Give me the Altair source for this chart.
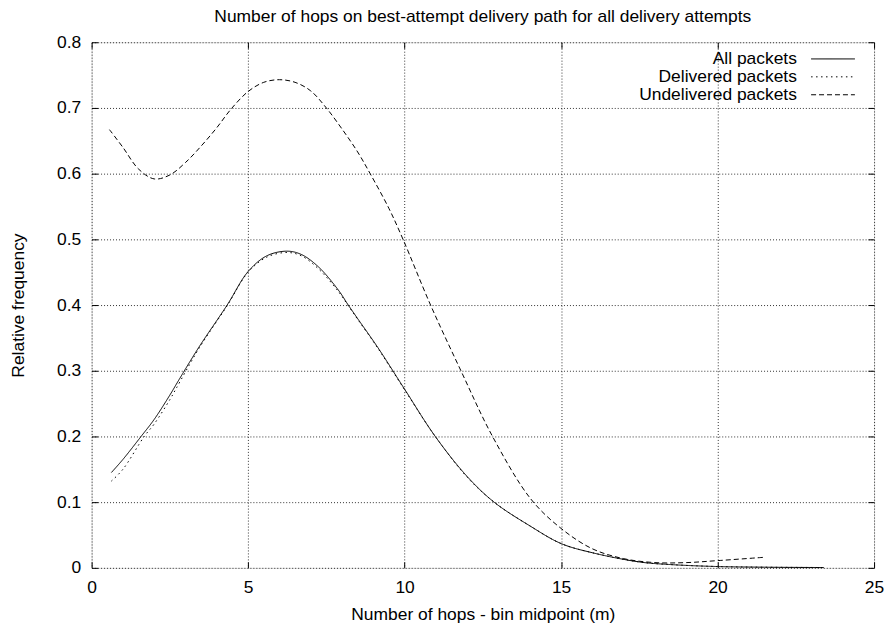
import altair as alt
import pandas as pd

# ---- data ----
all_x = [0.63, 1.0, 1.58, 2.0, 2.5, 2.8, 3.43, 4.33, 5.0, 5.6, 6.24, 6.7, 7.25, 7.88, 8.2, 8.52, 9.15, 10.0, 10.98, 12.0, 12.86, 14.0, 15.0, 16.0, 17.5, 18.5, 20.0, 21.5, 23.4]
all_y = [0.145, 0.165, 0.200, 0.226, 0.263, 0.287, 0.336, 0.400, 0.451, 0.475, 0.482, 0.477, 0.458, 0.423, 0.400, 0.378, 0.335, 0.272, 0.200, 0.139, 0.100, 0.064, 0.037, 0.023, 0.009, 0.005, 0.002, 0.001, 0.0005]

del_x = [0.63, 1.0, 1.68, 2.0, 2.5, 2.69, 3.43, 4.33, 5.0, 5.6, 6.24, 6.7, 7.25, 7.88, 8.2, 8.52, 9.15, 10.0, 10.98, 12.0, 12.86, 14.0, 15.0, 16.0, 17.5, 18.5, 20.0, 21.5, 23.4]
del_y = [0.132, 0.150, 0.200, 0.219, 0.256, 0.272, 0.334, 0.399, 0.450, 0.473, 0.480, 0.475, 0.455, 0.421, 0.399, 0.377, 0.334, 0.271, 0.200, 0.138, 0.100, 0.064, 0.037, 0.023, 0.009, 0.005, 0.002, 0.001, 0.0005]

und_x = [0.57, 1.0, 1.5, 2.0, 2.5, 3.0, 3.5, 4.0, 4.45, 5.0, 5.5, 6.0, 6.5, 7.0, 7.5, 8.0, 8.5, 8.9, 9.5, 9.95, 10.83, 11.8, 12.81, 14.03, 15.0, 16.0, 17.0, 18.0, 19.0, 20.0, 21.47]
und_y = [0.667, 0.640, 0.607, 0.592, 0.598, 0.617, 0.642, 0.670, 0.698, 0.725, 0.739, 0.743, 0.739, 0.726, 0.700, 0.668, 0.633, 0.600, 0.547, 0.500, 0.400, 0.300, 0.200, 0.105, 0.060, 0.029, 0.014, 0.008, 0.008, 0.011, 0.016]

series_names = ["All packets", "Delivered packets", "Undelivered packets"]
x_ticks = [0, 5, 10, 15, 20, 25]
y_ticks = [0, 0.1, 0.2, 0.3, 0.4, 0.5, 0.6, 0.7, 0.8]

rows = []
for name, xs, ys in zip(series_names, [all_x, del_x, und_x], [all_y, del_y, und_y]):
    for i, (a, b) in enumerate(zip(xs, ys)):
        rows.append({"series": name, "x": a, "y": b, "order": i})
df = pd.DataFrame(rows)

FONT = "Liberation Sans"
FS = 17.5
W, H = 786, 528

xscale = alt.Scale(domain=[0, 25], nice=False, zero=False)
yscale = alt.Scale(domain=[0, 0.8], nice=False, zero=False)

main = alt.Chart(df).mark_line(color="black", strokeWidth=1, interpolate="catmull-rom").encode(
    x=alt.X("x:Q", scale=xscale, axis=alt.Axis(
        values=x_ticks, format="d", title="Number of hops - bin midpoint (m)",
        orient="bottom", ticks=False, domain=False, grid=True,
        gridColor="#333", gridDash=[1, 2], gridWidth=1, gridOpacity=1,
        labelFont=FONT, labelFontSize=FS, labelColor="black", labelPadding=25,
        labelBaseline="alphabetic", labelFlush=False,
        titleFont=FONT, titleFontSize=FS, titleFontWeight="normal", titleColor="black",
        titleY=51.5, titleBaseline="alphabetic")),
    y=alt.Y("y:Q", scale=yscale, axis=alt.Axis(
        values=y_ticks, format=".1~f", title="Relative frequency",
        orient="left", ticks=False, domain=False, grid=True,
        gridColor="#333", gridDash=[1, 2], gridWidth=1, gridOpacity=1,
        labelFont=FONT, labelFontSize=FS, labelColor="black", labelPadding=11,
        labelFlush=False,
        titleFont=FONT, titleFontSize=FS, titleFontWeight="normal", titleColor="black",
        titleAngle=270, titleX=-73, titleY=H / 2, titleAlign="center",
        titleBaseline="middle")),
    strokeDash=alt.StrokeDash("series:N", scale=alt.Scale(
        domain=series_names, range=[[1, 0], [1.5, 3.5], [5, 3]]),
        legend=alt.Legend(
            title=None, orient="none", legendX=736, legendY=8,
            symbolType="M-3,0H3", symbolSize=215, symbolStrokeWidth=1,
            symbolStrokeColor="black",
            labelAlign="right", labelOffset={"expr": "-45"}, labelFont=FONT, labelFontSize=FS,
            labelColor="black", rowPadding=-3, labelLimit=300)),
    order="order:Q",
)

tick_axis = dict(labels=False, title=None, grid=False, domain=False, ticks=True,
                 tickSize=6, tickColor="black", tickWidth=1)

ticks_a = alt.Chart(df).mark_line(opacity=0).encode(
    x=alt.X("x:Q", scale=xscale, axis=alt.Axis(values=x_ticks, orient="top", offset=-H, **tick_axis)),
    y=alt.Y("y:Q", scale=yscale, axis=alt.Axis(values=y_ticks, orient="right", offset=-W, **tick_axis)),
    detail="series:N",
)
ticks_b = alt.Chart(df).mark_line(opacity=0).encode(
    x=alt.X("x:Q", scale=xscale, axis=alt.Axis(values=x_ticks, orient="bottom", offset=-H, **tick_axis)),
    y=alt.Y("y:Q", scale=yscale, axis=alt.Axis(values=y_ticks, orient="left", offset=-W, **tick_axis)),
    detail="series:N",
)

chart = alt.layer(main, ticks_a, ticks_b).resolve_axis(x="independent", y="independent").properties(
    width=W, height=H,
    autosize=alt.AutoSizeParams(type="none"),
    padding={"left": 84, "top": 33, "right": 12, "bottom": 56},
    title=alt.TitleParams("Number of hops on best-attempt delivery path for all delivery attempts",
                          font=FONT, fontSize=FS, fontWeight="normal", color="black",
                          anchor="middle", offset=8),
).configure_view(stroke="black", strokeWidth=1.5).configure(background="white")

chart.save("out.html", embed_options={"renderer": "svg", "actions": False})
